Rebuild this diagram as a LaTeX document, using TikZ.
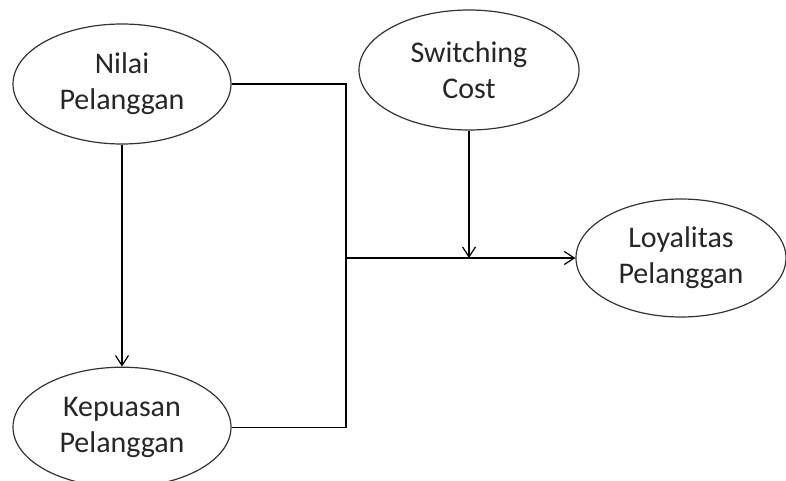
\documentclass[tikz,border=0pt]{standalone}
\usepackage{fontspec}
\setmainfont{Carlito}
\usetikzlibrary{shapes.geometric,arrows.meta,positioning}

\begin{document}
\begin{tikzpicture}[x=1pt, y=-1pt, line width=1.2pt,
		every node/.style={font=\fontsize{30}{36}\selectfont, align=center, text=black!85},
		var/.style={draw=black!80, ellipse, inner sep=0pt, minimum width=218pt, minimum height=120pt},
		arr/.style={-{Straight Barb[length=10pt, width=13pt]}}]
			\useasboundingbox (0,0) rectangle (786,481);
			\node[var] (nilai) at (122,84) {Nilai\\Pelanggan};
			\node[var, below=222pt of nilai] (puas) {Kepuasan\\Pelanggan};
			\node[var, minimum width=220pt] (switch) at (469,70) {Switching\\Cost};
			\node[var, minimum width=210pt, minimum height=118pt] (loyal) at (681,258) {Loyalitas\\Pelanggan};
			
			\coordinate (j) at (346,258);
			\draw[arr] (nilai) -- (puas);
			\draw (nilai.east) -| (j) |- (puas.east);
			\draw[arr] (j) -- (loyal.west);
			\draw[arr] (switch.south) -- (switch.south |- j);
		\end{tikzpicture}
\end{document}
